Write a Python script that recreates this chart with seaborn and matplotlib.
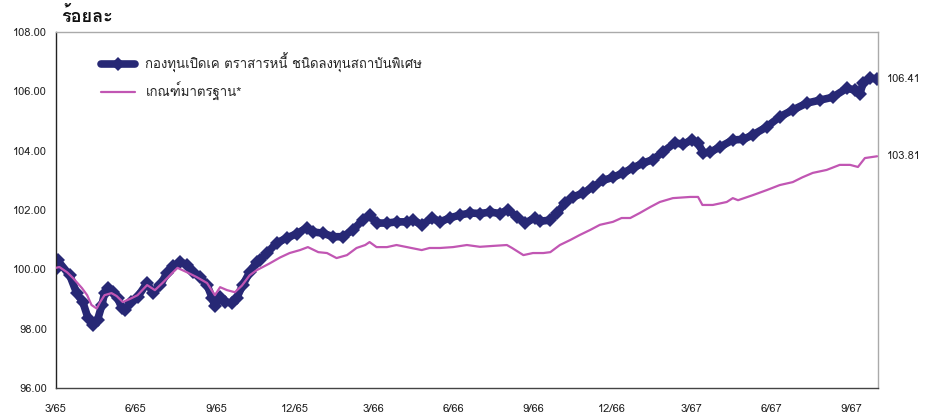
import matplotlib
matplotlib.use('Agg')
import matplotlib.pyplot as plt
import matplotlib.ticker as mticker
from matplotlib import font_manager
import seaborn as sns
import pandas as pd

# Values
FUND_DATES = ['2022-03-01', '2022-03-03', '2022-03-17', '2022-03-25', '2022-04-01',
              '2022-04-07', '2022-04-13', '2022-04-18', '2022-04-23', '2022-04-26',
              '2022-04-30', '2022-05-06', '2022-05-11', '2022-05-16', '2022-05-19',
              '2022-05-27', '2022-06-03', '2022-06-14', '2022-06-21', '2022-06-29',
              '2022-07-07', '2022-07-14', '2022-07-22', '2022-07-30', '2022-08-06',
              '2022-08-14', '2022-08-22', '2022-08-28', '2022-08-31', '2022-09-06',
              '2022-09-12', '2022-09-20', '2022-09-25', '2022-10-02', '2022-10-10',
              '2022-10-18', '2022-10-22', '2022-10-30', '2022-11-10', '2022-11-22',
              '2022-12-03', '2022-12-15', '2022-12-22', '2023-01-02', '2023-01-14',
              '2023-01-25', '2023-02-06', '2023-02-17', '2023-02-25', '2023-03-05',
              '2023-03-17', '2023-03-28', '2023-04-09', '2023-04-16', '2023-04-26',
              '2023-05-08', '2023-05-17', '2023-05-28', '2023-06-09', '2023-06-21',
              '2023-07-02', '2023-07-14', '2023-07-25', '2023-08-03', '2023-08-14',
              '2023-08-23', '2023-09-03', '2023-09-09', '2023-09-21', '2023-09-29',
              '2023-10-08', '2023-10-17', '2023-10-29', '2023-11-09', '2023-11-21',
              '2023-12-02', '2023-12-14', '2023-12-25', '2024-01-06', '2024-01-17',
              '2024-01-29', '2024-02-11', '2024-02-21', '2024-03-02', '2024-03-09',
              '2024-03-15', '2024-03-23', '2024-04-03', '2024-04-18', '2024-04-30',
              '2024-05-11', '2024-05-27', '2024-06-11', '2024-06-26', '2024-07-12',
              '2024-07-27', '2024-08-11', '2024-08-27', '2024-09-06', '2024-09-11',
              '2024-09-15', '2024-09-23', '2024-10-01']
FUND_VALUES = [100.00, 100.30, 99.80, 99.20, 98.90, 98.36, 98.12, 98.30, 98.80, 99.20,
               99.37, 99.25, 99.03, 98.70, 98.63, 98.90, 99.07, 99.54, 99.20, 99.47,
               99.88, 100.10, 100.25, 100.15, 99.90, 99.74, 99.47, 99.03, 98.75, 99.07,
               98.90, 98.87, 99.03, 99.47, 99.90, 100.25, 100.30, 100.55, 100.89, 101.06,
               101.20, 101.40, 101.26, 101.22, 101.10, 101.10, 101.33, 101.66, 101.83, 101.56,
               101.56, 101.60, 101.60, 101.66, 101.50, 101.73, 101.60, 101.73, 101.83, 101.90,
               101.88, 101.93, 101.88, 102.00, 101.77, 101.56, 101.73, 101.62, 101.66, 101.90,
               102.24, 102.44, 102.57, 102.78, 103.00, 103.10, 103.25, 103.42, 103.58, 103.70,
               103.96, 104.26, 104.22, 104.36, 104.26, 103.92, 103.95, 104.12, 104.36, 104.38,
               104.53, 104.80, 105.14, 105.37, 105.60, 105.70, 105.80, 106.10, 106.04, 105.90,
               106.28, 106.45, 106.41]

BENCH_DATES = ['2022-03-01', '2022-03-05', '2022-03-14', '2022-03-21', '2022-03-31',
               '2022-04-06', '2022-04-11', '2022-04-17', '2022-04-21', '2022-04-26',
               '2022-05-04', '2022-05-10', '2022-05-17', '2022-05-25', '2022-06-03',
               '2022-06-14', '2022-06-23', '2022-07-02', '2022-07-13', '2022-07-19',
               '2022-07-30', '2022-08-10', '2022-08-22', '2022-08-31', '2022-09-06',
               '2022-09-14', '2022-09-23', '2022-10-01', '2022-10-10', '2022-10-18',
               '2022-11-02', '2022-11-14', '2022-11-25', '2022-12-07', '2022-12-16',
               '2022-12-28', '2023-01-07', '2023-01-18', '2023-01-30', '2023-02-10',
               '2023-02-20', '2023-02-25', '2023-03-05', '2023-03-17', '2023-03-28',
               '2023-04-09', '2023-04-26', '2023-05-05', '2023-05-17', '2023-06-01',
               '2023-06-17', '2023-07-02', '2023-07-17', '2023-08-02', '2023-08-08',
               '2023-08-21', '2023-09-01', '2023-09-13', '2023-09-21', '2023-10-02',
               '2023-10-14', '2023-10-25', '2023-11-06', '2023-11-17', '2023-12-02',
               '2023-12-12', '2023-12-22', '2024-01-02', '2024-01-14', '2024-01-25',
               '2024-02-09', '2024-02-29', '2024-03-09', '2024-03-14', '2024-03-26',
               '2024-04-11', '2024-04-18', '2024-04-24', '2024-05-11', '2024-05-27',
               '2024-06-11', '2024-06-26', '2024-07-07', '2024-07-19', '2024-08-04',
               '2024-08-19', '2024-08-31', '2024-09-09', '2024-09-17', '2024-10-01']
BENCH_VALUES = [100.05, 100.08, 99.90, 99.70, 99.37, 99.13, 98.80, 98.68, 98.90, 99.13,
                99.20, 99.10, 98.90, 99.00, 99.13, 99.47, 99.30, 99.55, 99.88, 100.05,
                99.90, 99.74, 99.54, 99.13, 99.40, 99.30, 99.23, 99.45, 99.80, 99.97,
                100.20, 100.40, 100.55, 100.65, 100.75, 100.58, 100.55, 100.38, 100.48, 100.72,
                100.82, 100.92, 100.75, 100.75, 100.82, 100.75, 100.65, 100.72, 100.72, 100.75,
                100.82, 100.76, 100.79, 100.82, 100.72, 100.48, 100.55, 100.55, 100.58, 100.82,
                100.99, 101.16, 101.33, 101.50, 101.60, 101.73, 101.73, 101.90, 102.10, 102.27,
                102.40, 102.44, 102.44, 102.17, 102.17, 102.27, 102.40, 102.33, 102.50, 102.67,
                102.84, 102.94, 103.10, 103.25, 103.35, 103.52, 103.52, 103.45, 103.75, 103.81]

TICK_DATES = ['2022-03-01', '2022-06-01', '2022-09-01', '2022-12-01', '2023-03-01',
              '2023-06-01', '2023-09-01', '2023-12-01', '2024-03-01', '2024-06-01',
              '2024-09-01']
TICK_LABELS = ['3/65', '6/65', '9/65', '12/65', '3/66', '6/66', '9/66', '12/66',
               '3/67', '6/67', '9/67']

FUND_LABEL = 'กองทุนเปิดเค ตราสารหนี้ ชนิดลงทุนสถาบันพิเศษ'
BENCH_LABEL = 'เกณฑ์มาตรฐาน*'
Y_TITLE = 'ร้อยละ'

FUND_COLOR = '#272875'
BENCH_COLOR = '#c156b3'


def find_thai_font():
    # Look for an installed font that has Thai glyphs
    try:
        from fontTools.ttLib import TTFont
    except ImportError:
        return None
    for f in font_manager.fontManager.ttflist:
        try:
            cmap = TTFont(f.fname, fontNumber=0, lazy=True).getBestCmap()
        except Exception:
            continue
        if cmap and 0x0E01 in cmap and 0x0E49 in cmap:
            return f.name
    return None


def main():
    sns.set_style('white')
    thai = find_thai_font()
    families = ([thai] if thai else []) + ['DejaVu Sans']
    plt.rcParams['font.family'] = families

    fund = pd.DataFrame({'date': pd.to_datetime(FUND_DATES), 'value': FUND_VALUES})
    bench = pd.DataFrame({'date': pd.to_datetime(BENCH_DATES), 'value': BENCH_VALUES})

    fig = plt.figure(figsize=(9.31, 4.20), dpi=100)
    ax = fig.add_axes([0.060, 0.076, 0.883, 0.848])

    sns.lineplot(data=fund, x='date', y='value', ax=ax, color=FUND_COLOR,
                 linewidth=5.5, marker='D', markersize=7, markeredgewidth=0,
                 label=FUND_LABEL, zorder=2)
    sns.lineplot(data=bench, x='date', y='value', ax=ax, color=BENCH_COLOR,
                 linewidth=1.6, label=BENCH_LABEL, zorder=3)

    # Axes limits and ticks
    ax.set_ylim(96, 108)
    ax.set_yticks([96, 98, 100, 102, 104, 106, 108])
    ax.yaxis.set_major_formatter(mticker.FormatStrFormatter('%.2f'))
    ax.set_xlim(pd.Timestamp('2022-03-01'), pd.Timestamp('2024-10-02'))
    ax.set_xticks(pd.to_datetime(TICK_DATES))
    ax.set_xticklabels(TICK_LABELS)
    ax.tick_params(axis='both', direction='out', length=3.5, width=1,
                   labelsize=8, colors='#333333', labelcolor='#222222')
    ax.tick_params(axis='x', pad=8)
    ax.tick_params(axis='y', pad=3)
    ax.set_xlabel('')
    ax.set_ylabel('')

    # Spines
    ax.spines['left'].set_color('#222222')
    ax.spines['bottom'].set_color('#444444')
    ax.spines['top'].set_color('#aaaaaa')
    ax.spines['right'].set_color('#aaaaaa')
    for s in ax.spines.values():
        s.set_linewidth(1)

    # End-of-line value labels
    for df in (fund, bench):
        last = df.iloc[-1]
        ax.annotate(f'{last["value"]:.2f}', xy=(last['date'], last['value']),
                    xytext=(7, 0), textcoords='offset points', va='center',
                    ha='left', fontsize=8, color='#222222', annotation_clip=False)

    # Legend and title
    ax.legend(loc='upper left', bbox_to_anchor=(0.04, 0.975), frameon=False,
              fontsize=9.5, handlelength=2.6, labelspacing=0.7)
    fig.text(0.066, 0.96, Y_TITLE, fontsize=13, weight='bold', va='center',
             ha='left', color='#111111')

    fig.savefig('out.png', dpi=100)
    plt.close()


if __name__ == '__main__':
    main()
